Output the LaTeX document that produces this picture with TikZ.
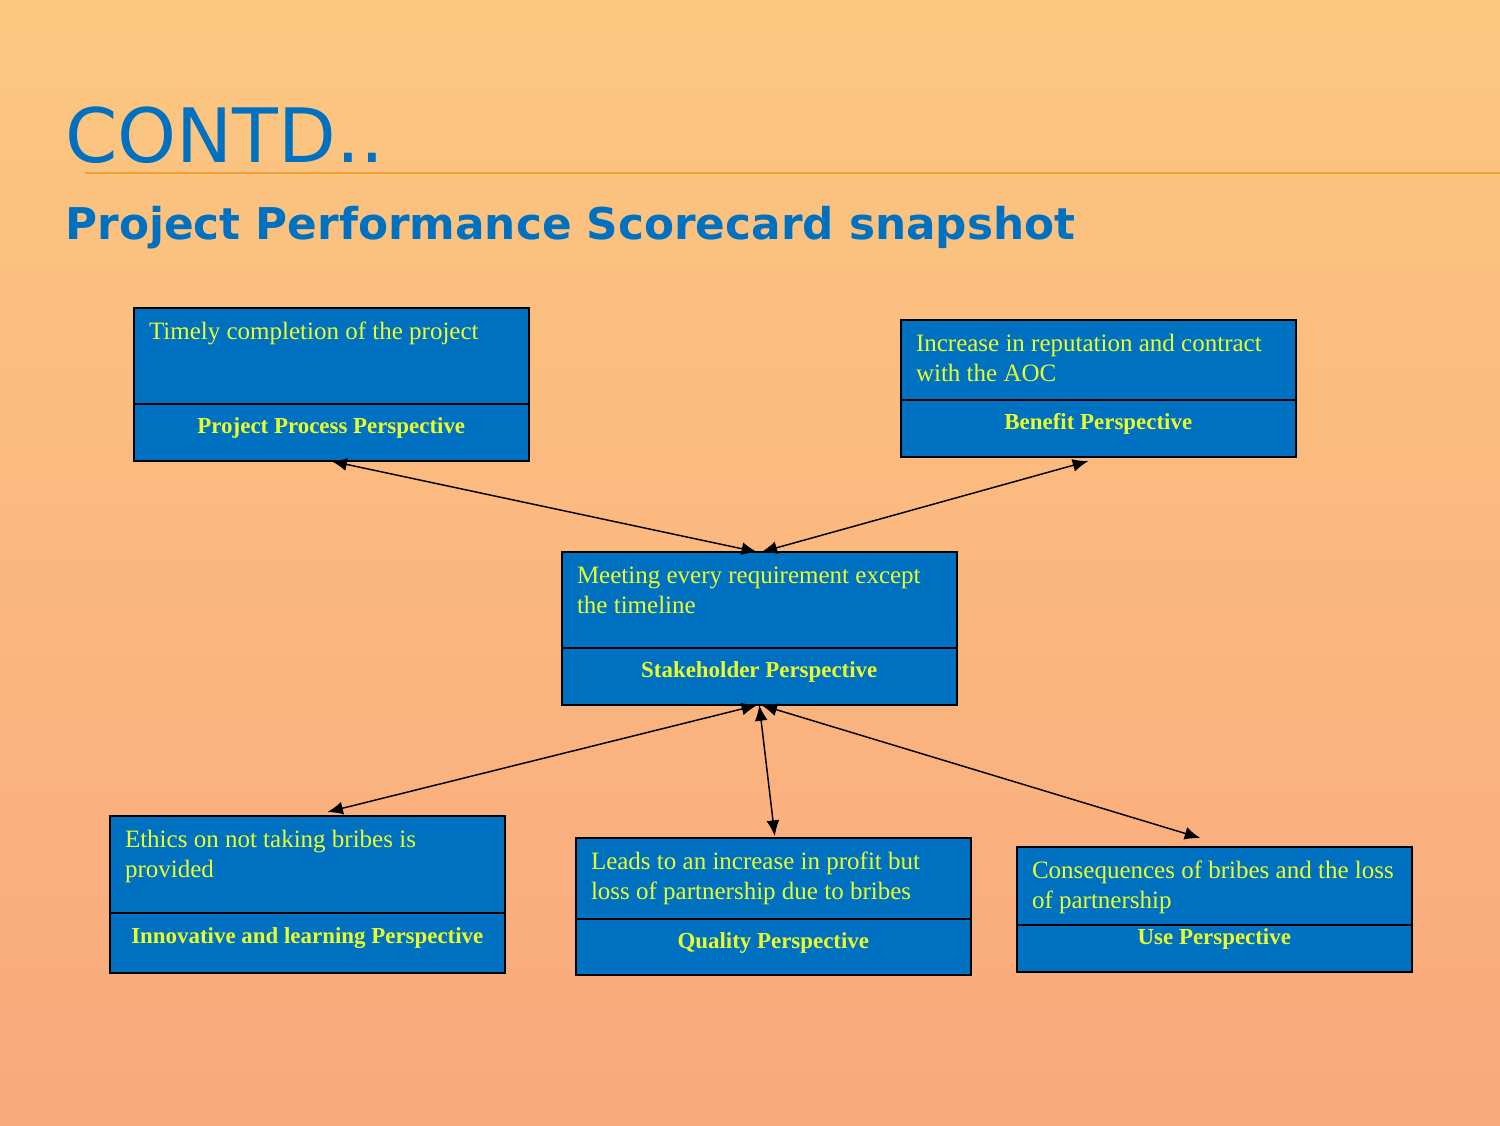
\documentclass[tikz,border=0pt]{standalone}
\usepackage{fontspec}
\setmainfont{Liberation Serif}
\newfontfamily\headfont{DejaVu Sans}
\usetikzlibrary{positioning,arrows.meta}

\definecolor{bgtop}{RGB}{251,200,128}
\definecolor{bgbot}{RGB}{250,168,125}
\definecolor{boxblue}{RGB}{0,112,192}
\definecolor{boxyellow}{RGB}{232,255,45}
\definecolor{headblue}{RGB}{0,112,192}
\definecolor{ruleorange}{RGB}{240,162,55}

\tikzstyle{upbox} = [rectangle, draw, line width=0.9pt, outer sep=0pt, fill=boxblue, text=boxyellow, font=\fontsize{12}{14.4}\selectfont, text width=175pt, inner xsep=7.2pt, inner ysep=5pt, align=flush left, text height=10pt, anchor=north west]
\tikzstyle{lowbox} = [rectangle, draw, line width=0.9pt, outer sep=0pt, fill=boxblue, text=boxyellow, font=\fontsize{11}{13.2}\selectfont\bfseries, minimum width=189.4pt, inner sep=0pt, text height=14pt]
\tikzstyle{arrow} = [line width=0.7pt, {Latex[length=7.5pt,width=6.2pt]}-{Latex[length=7.5pt,width=6.2pt]}]

\begin{document}
\begin{tikzpicture}[x=0.48pt, y=-0.48pt]
                \useasboundingbox (0,0) rectangle (1500,1125);
                \fill [top color=bgtop, bottom color=bgbot] (0,0) rectangle (1500,1125);

                % heading
                \node (title) [anchor=base west, inner sep=0pt, text=headblue, font=\headfont\fontsize{36}{40}\selectfont] at (65,162) {CONTD..};
                \draw [ruleorange, line width=1.4pt] (85,173) -- (1500,173);
                \node (subtitle) [anchor=base west, inner sep=0pt, text=headblue, font=\headfont\bfseries\fontsize{21}{25}\selectfont] at (65,239) {Project Performance Scorecard snapshot};

                % perspectives
                \node (proc) [upbox, text depth=26.1pt] at (134,308) {Timely completion of the project};
                \node (procP) [lowbox, text depth=13.4pt, below=0pt of proc] {Project Process Perspective};

                \node (ben) [upbox, text depth=18.4pt] at (901,320) {Increase in reputation and contract\\with the AOC};
                \node (benP) [lowbox, text depth=13.4pt, below=0pt of ben] {Benefit Perspective};

                \node (stake) [upbox, text depth=26.1pt] at (562,552) {Meeting every requirement except\\the timeline};
                \node (stakeP) [lowbox, text depth=13.4pt, below=0pt of stake] {Stakeholder Perspective};

                \node (ethics) [upbox, text depth=26.6pt] at (110,816) {Ethics on not taking bribes is\\provided};
                \node (ethicsP) [lowbox, text height=14.4pt, text depth=14.4pt, below=0pt of ethics] {Innovative and learning Perspective};

                \node (quality) [upbox, text depth=18.9pt] at (576,838) {Leads to an increase in profit but\\loss of partnership due to bribes};
                \node (qualityP) [lowbox, text depth=12.9pt, below=0pt of quality] {Quality Perspective};

                \node (use) [upbox, text depth=17.4pt] at (1017,847) {Consequences of bribes and the loss\\of partnership};
                \node (useP) [lowbox, text height=9.6pt, text depth=13pt, below=0pt of use] {Use Perspective};

                % links
                \draw [arrow] (procP.south) -- ([xshift=-1pt]stake.north);
                \draw [arrow] ([shift={(-10,4)}]benP.south) -- ([xshift=1pt]stake.north);
                \draw [arrow] ([xshift=-1pt]stakeP.south) -- ([shift={(20,-4)}]ethics.north);
                \draw [arrow] (stakeP.south) -- ([shift={(1.5,-2)}]quality.north);
                \draw [arrow] ([xshift=1pt]stakeP.south) -- ([shift={(-14,-9)}]use.north);
            \end{tikzpicture}
\end{document}
